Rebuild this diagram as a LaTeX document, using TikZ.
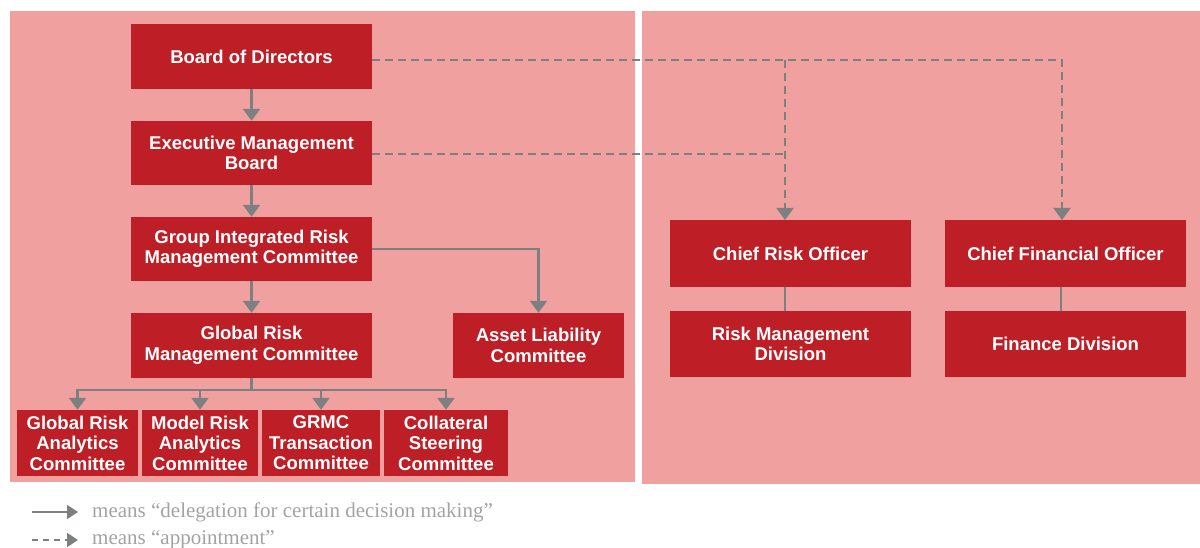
\documentclass[tikz,border=0pt]{standalone}
\usepackage{fontspec}
\setmainfont{Liberation Sans}
\newfontfamily\legfont{Liberation Serif}
\usetikzlibrary{arrows.meta}
\definecolor{boxred}{HTML}{BE1E26}
\definecolor{panelpink}{HTML}{F1A0A0}
\definecolor{linegray}{HTML}{7D8080}
\definecolor{legtext}{HTML}{A3A3A3}
\begin{document}
\begin{tikzpicture}[x=1pt,y=-1pt,
  box/.style={fill=boxred, text=white, font=\fontsize{18.5}{20.5}\selectfont\bfseries, align=center, inner sep=0pt},
  solidarrow/.style={draw=linegray, line width=2.2pt, -{Triangle[width=17pt,length=12pt]}},
  dasharrow/.style={draw=linegray, line width=2.2pt, dash pattern=on 8pt off 5pt, -{Triangle[width=17pt,length=12pt]}},
  plainline/.style={draw=linegray, line width=2.2pt},
  dashline/.style={draw=linegray, line width=2.2pt, dash pattern=on 8pt off 5pt},
  legendtext/.style={text=legtext, font=\legfont\fontsize{21}{24}\selectfont, anchor=west, inner sep=0pt}
]
\useasboundingbox (0,0) rectangle (1200,548);
% panels
\fill[panelpink] (10,11) rectangle (635,482);
\fill[panelpink] (642,11) rectangle (1200,484);

% boxes (left)
\node[box, minimum width=241pt, minimum height=65pt] (board) at (251.5,56.5) {Board of Directors};
\node[box, minimum width=241pt, minimum height=64pt] (emb) at (251.5,153) {Executive Management\\Board};
\node[box, minimum width=241pt, minimum height=64pt] (girmc) at (251.5,249) {Group Integrated Risk\\Management Committee};
\node[box, minimum width=241pt, minimum height=65pt] (grmc) at (251.5,345.5) {Global Risk\\Management Committee};
\node[box, minimum width=171pt, minimum height=65pt] (alc) at (538.5,345.5) {Asset Liability\\Committee};

\node[box, minimum width=121pt, minimum height=66pt] (gra) at (77.5,443) {Global Risk\\Analytics\\Committee};
\node[box, minimum width=116pt, minimum height=66pt] (mra) at (200,443) {Model Risk\\Analytics\\Committee};
\node[box, minimum width=118pt, minimum height=66pt] (grmct) at (321,443) {GRMC\\Transaction\\Committee};
\node[box, minimum width=124pt, minimum height=66pt] (csc) at (446,443) {Collateral\\Steering\\Committee};

% boxes (right)
\node[box, minimum width=241pt, minimum height=67pt] (cro) at (790.5,253.5) {Chief Risk Officer};
\node[box, minimum width=241pt, minimum height=67pt] (cfo) at (1065.5,253.5) {Chief Financial Officer};
\node[box, minimum width=241pt, minimum height=66pt] (rmd) at (790.5,344) {Risk Management\\Division};
\node[box, minimum width=241pt, minimum height=66pt] (fin) at (1065.5,344) {Finance Division};

% solid connectors
\draw[solidarrow] (board.south) -- (emb.north);
\draw[solidarrow] (emb.south) -- (girmc.north);
\draw[solidarrow] (girmc.south) -- (grmc.north);
\draw[solidarrow] (girmc.east) -| (alc.north);
\coordinate (split) at (251.5,390);
\draw[plainline] (grmc.south) -- (split);
\draw[solidarrow] (split) -| (gra.north);
\draw[solidarrow] (split) -| (mra.north);
\draw[solidarrow] (split) -| (grmct.north);
\draw[solidarrow] (split) -| (csc.north);

\draw[plainline] (cro.south -| 785,0) -- (rmd.north -| 785,0);
\draw[plainline] (cfo.south -| 1061,0) -- (fin.north -| 1061,0);

% dashed connectors
\coordinate (crotop) at (785,220);
\coordinate (cfotop) at (1062,220);
\coordinate (branch) at (785,60);
\draw[dasharrow] (board.east |- 0,60) -| (cfotop);
\draw[dasharrow] (branch) -- (crotop);
\draw[dashline] (emb.east |- 0,154) -- (785,154);

% legend
\coordinate (l1a) at (32,512);
\coordinate (l1b) at (78,512);
\coordinate (l2a) at (32,540);
\coordinate (l2b) at (78,540);
\draw[draw=linegray, line width=1.8pt, -{Triangle[width=14pt,length=11pt]}] (l1a) -- (l1b);
\draw[draw=linegray, line width=1.8pt, dash pattern=on 6pt off 5pt, -{Triangle[width=14pt,length=11pt]}] (l2a) -- (l2b);
\node[legendtext] (leg1) at (92,512) {means “delegation for certain decision making”};
\node[legendtext] (leg2) at (92,540) {means “appointment”};
\end{tikzpicture}
\end{document}
